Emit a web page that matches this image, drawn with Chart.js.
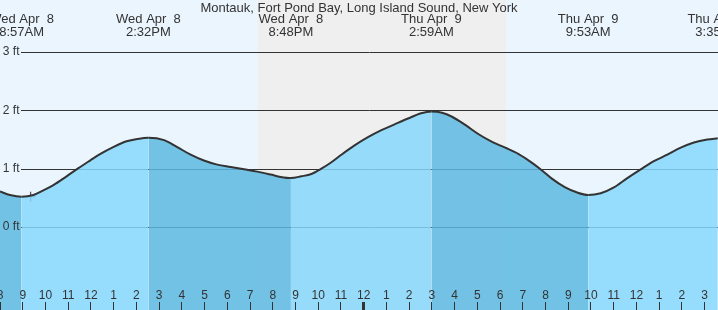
<!DOCTYPE html>
<html>
<head>
<meta charset="utf-8">
<script src="https://cdn.jsdelivr.net/npm/chart.js@4/dist/chart.umd.min.js"></script>
<style>
  html, body { margin: 0; padding: 0; background: #fff; }
  #tide { display: block; }
</style>
</head>
<body>
<canvas id="tide" width="718" height="310"></canvas>
<script>
const title = "Montauk, Fort Pond Bay, Long Island Sound, New York";

// hours counted from Wed Apr 8, 00:00
const tideHours = [8.00, 8.44, 8.95, 9.47, 9.91, 10.35, 10.93, 11.45, 11.96, 12.40, 12.98, 13.57, 14.05, 14.53,
  15.22, 15.80, 16.39, 16.97, 17.56, 18.15, 18.74, 19.32, 19.91, 20.35, 20.80,
  21.26, 21.70, 22.14, 22.58, 23.02, 23.60, 24.19, 24.78, 25.36, 25.95, 26.53, 26.98,
  27.45, 27.89, 28.47, 29.06, 29.65, 30.23, 30.82, 31.41, 31.85, 32.28, 32.87, 33.34, 33.88,
  34.43, 35.01, 35.60, 36.19, 36.77, 37.36, 37.95, 38.53, 39.12, 39.58];
const tideFeet = [0.61, 0.55, 0.52, 0.55, 0.63, 0.72, 0.87, 1.01, 1.14, 1.25, 1.37, 1.47, 1.51, 1.53,
  1.49, 1.37, 1.24, 1.14, 1.07, 1.03, 0.99, 0.95, 0.90, 0.86, 0.84,
  0.87, 0.91, 1.00, 1.11, 1.24, 1.40, 1.54, 1.66, 1.76, 1.86, 1.95, 1.98,
  1.96, 1.89, 1.75, 1.59, 1.46, 1.36, 1.25, 1.10, 0.97, 0.83, 0.68, 0.60, 0.55,
  0.58, 0.68, 0.84, 0.99, 1.13, 1.24, 1.36, 1.45, 1.50, 1.52];

const extremeHours = [8.95, 14.53, 20.80, 26.98, 33.88, 39.58];
const extremeDays = ["Wed Apr  8", "Wed Apr  8", "Wed Apr  8", "Thu Apr  9", "Thu Apr  9", "Thu Apr  9"];
const extremeTimes = ["8:57AM", "2:32PM", "8:48PM", "2:59AM", "9:53AM", "3:35PM"];

const nowHour = [9.35];
const nowFeet = [0.52];

const nightStart = 19.35;
const nightEnd = 30.26;

const xMin = 8.0;
const xMax = 39.59;
const yMin = -1.42;
const yMax = 3.89;

const bgColor = "rgb(235, 245, 254)";
const nightColor = "rgb(239, 239, 239)";
const risingColor = "rgba(135, 215, 253, 0.85)";
const fallingColor = "rgba(93, 184, 226, 0.85)";
const textColor = "#333";

Chart.defaults.font.family = "'Liberation Sans', Arial, sans-serif";
Chart.defaults.font.size = 12;
Chart.defaults.color = textColor;

// Helpers
const getById = (id) => document.getElementById(id);
const points = (xs, ys) => xs.map((x, i) => ({ x, y: ys[i] }));
const noPadding = (scale) => {
  scale.paddingTop = 0;
  scale.paddingBottom = 0;
  scale.paddingLeft = 0;
  scale.paddingRight = 0;
};

// day / night background
const backgroundPlugin = {
  id: "background",
  beforeDraw(chart) {
    const { ctx, chartArea: a, scales: { x } } = chart;
    ctx.save();
    ctx.fillStyle = bgColor;
    ctx.fillRect(a.left, a.top, a.right - a.left, a.bottom - a.top);
    const x0 = x.getPixelForValue(nightStart);
    const x1 = x.getPixelForValue(nightEnd);
    ctx.fillStyle = nightColor;
    ctx.fillRect(x0, a.top, x1 - x0, a.bottom - a.top);
    ctx.restore();
  },
};

// horizontal ft lines, starting right of the labels
const gridPlugin = {
  id: "ftLines",
  beforeDatasetsDraw(chart) {
    const { ctx, chartArea: a, scales: { y } } = chart;
    ctx.save();
    ctx.strokeStyle = textColor;
    ctx.lineWidth = 1;
    y.ticks.filter(t => t.value >= 0).forEach(t => {
      const py = Math.round(y.getPixelForValue(t.value)) + 0.5;
      ctx.beginPath();
      ctx.moveTo(21, py);
      ctx.lineTo(a.right, py);
      ctx.stroke();
    });
    ctx.restore();
  },
};

// title + high/low labels
const labelsPlugin = {
  id: "tideLabels",
  afterDraw(chart) {
    const { ctx, scales: { x } } = chart;
    ctx.save();
    ctx.fillStyle = textColor;
    ctx.font = "13px 'Liberation Sans', Arial, sans-serif";
    ctx.textAlign = "center";
    ctx.textBaseline = "middle";
    ctx.fillText(title, 359, 8);
    extremeHours.forEach((h, i) => {
      const px = x.getPixelForValue(h);
      ctx.fillText(extremeDays[i], px, 19.5);
      ctx.fillText(extremeTimes[i], px, 32);
    });
    ctx.restore();
  },
};

new Chart(getById("tide").getContext("2d"), {
  type: "line",
  data: {
    datasets: [
      {
        data: points(tideHours, tideFeet),
        borderColor: textColor,
        borderWidth: 2,
        pointRadius: 0,
        cubicInterpolationMode: "monotone",
        fill: "start",
        backgroundColor: risingColor,
        segment: {
          backgroundColor: c => c.p1.parsed.y > c.p0.parsed.y ? risingColor : fallingColor,
        },
      },
      {
        data: points(nowHour, nowFeet),
        showLine: false,
        pointStyle: "cross",
        pointRadius: 5,
        borderColor: textColor,
        borderWidth: 1,
      },
    ],
  },
  options: {
    responsive: false,
    animation: false,
    devicePixelRatio: 1,
    layout: { padding: 0, autoPadding: false },
    plugins: {
      legend: { display: false },
      tooltip: { enabled: false },
    },
    scales: {
      x: {
        type: "linear",
        min: xMin,
        max: xMax,
        position: { y: yMin + 8 * (yMax - yMin) / 310 },
        afterFit: noPadding,
        border: { display: false },
        grid: {
          drawOnChartArea: false,
          drawTicks: true,
          tickLength: 8,
          tickColor: textColor,
          tickWidth: c => (c.tick && c.tick.value === 24 ? 3 : 1),
          z: 1,
        },
        ticks: {
          stepSize: 1,
          includeBounds: false,
          autoSkip: false,
          maxRotation: 0,
          mirror: true,
          padding: -7,
          color: textColor,
          z: 1,
          callback: v => (v % 12) || 12,
        },
      },
      y: {
        type: "linear",
        min: yMin,
        max: yMax,
        position: { x: xMin + 19.5 / 22.73 },
        afterFit: noPadding,
        border: { display: false },
        grid: { display: false },
        ticks: {
          stepSize: 1,
          includeBounds: false,
          padding: 0,
          color: textColor,
          z: 1,
          callback: v => (v >= 0 ? v + " ft" : ""),
        },
      },
    },
  },
  plugins: [backgroundPlugin, gridPlugin, labelsPlugin],
});
</script>
</body>
</html>
